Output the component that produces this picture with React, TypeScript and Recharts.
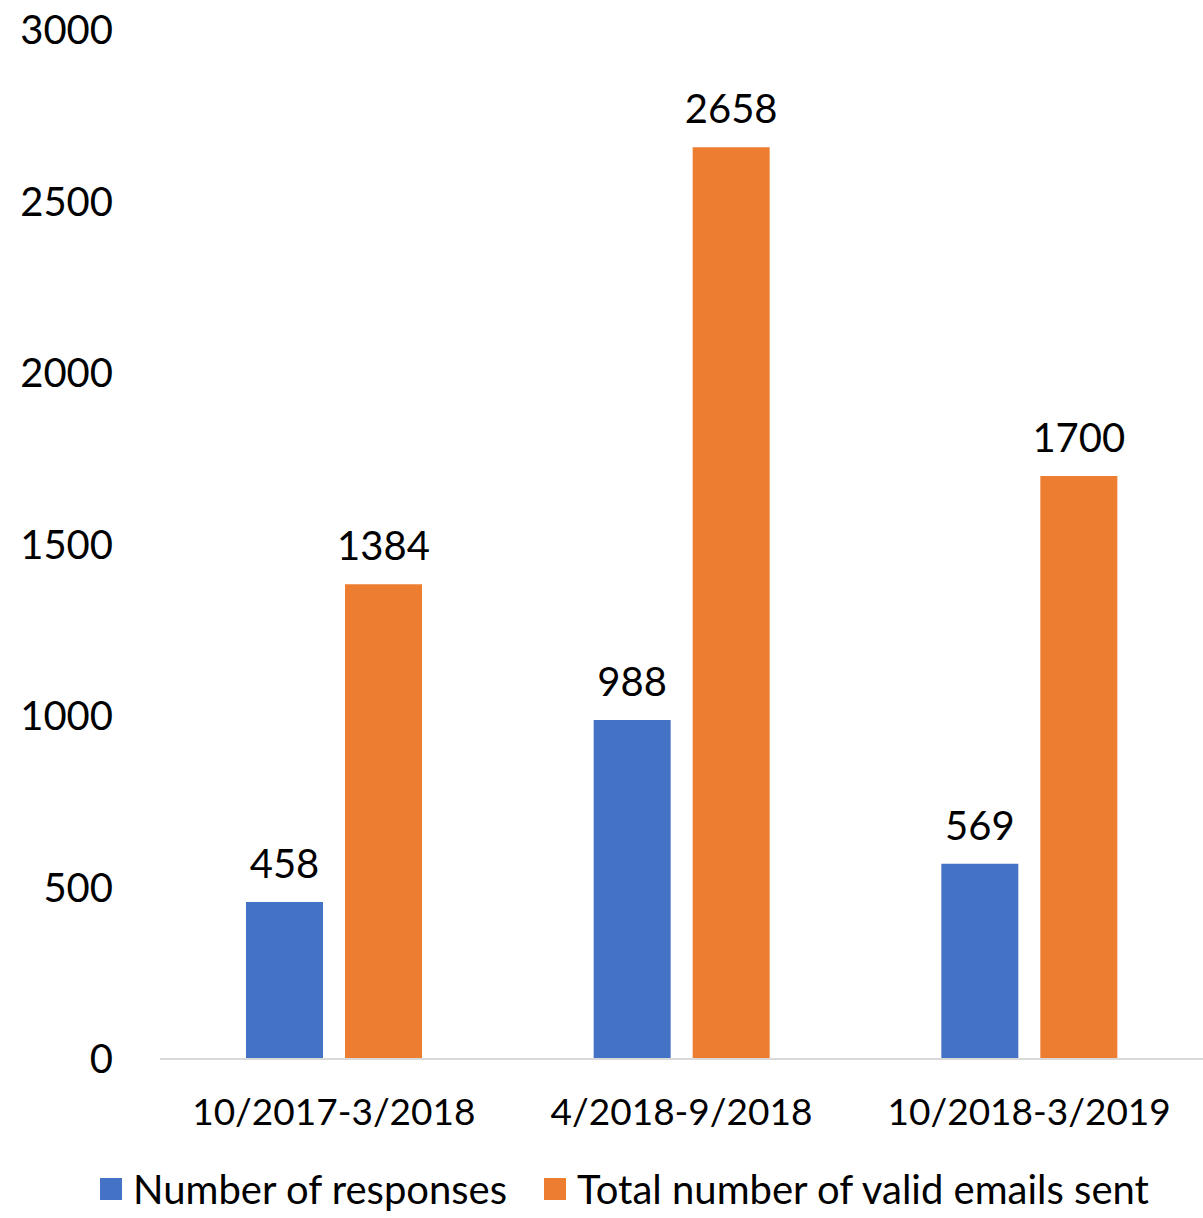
import { BarChart, Bar, XAxis, YAxis, Legend, LabelList } from "recharts";

const periods = ["10/2017-3/2018", "4/2018-9/2018", "10/2018-3/2019"];
const responses = [458, 988, 569];
const emailsSent = [1384, 2658, 1700];
const yTicks = [0, 500, 1000, 1500, 2000, 2500, 3000];

const BLUE = "#4472C4";
const ORANGE = "#ED7D31";
const FONT = "Lato, 'Open Sans', sans-serif";

const data = periods.map((p, i) => ({ period: p, responses: responses[i], sent: emailsSent[i] }));

function LegendBox() {
  const item = (color: string, text: string, gap: number) => (
    <div style={{ display: "flex", alignItems: "center", marginRight: gap }}>
      <div style={{ width: 22, height: 22, background: color, marginRight: 11 }} />
      <span style={{ fontSize: 40, color: "#000" }}>{text}</span>
    </div>
  );
  return (
    <div style={{ height: 59, display: "flex", alignItems: "center", justifyContent: "center", fontFamily: FONT, paddingLeft: 46 }}>
      {item(BLUE, "Number of responses", 37)}
      {item(ORANGE, "Total number of valid emails sent", 0)}
    </div>
  );
}

export default function App() {
  return (
    <div style={{ position: "absolute", left: 0, top: 0, width: 1203, height: 1218, background: "#fff", fontFamily: FONT }}>
      <BarChart
        width={1203}
        height={1218}
        data={data}
        margin={{ top: 30, right: 0, left: 0, bottom: 0 }}
        barSize={77}
        barGap={22}
      >
        <XAxis
          dataKey="period"
          height={100}
          axisLine={{ stroke: "#D9D9D9", strokeWidth: 2 }}
          tickLine={false}
          tickSize={0}
          tickMargin={40}
          tick={{ fontSize: 37, fill: "#000", fontFamily: FONT }}
        />
        <YAxis
          width={160}
          domain={[0, 3000]}
          ticks={yTicks}
          axisLine={false}
          tickLine={false}
          tickSize={0}
          tickMargin={47}
          tick={{ fontSize: 40, fill: "#000", fontFamily: FONT }}
        />
        <Legend verticalAlign="bottom" height={59} content={() => <LegendBox />} />
        <Bar dataKey="responses" name="Number of responses" fill={BLUE} isAnimationActive={false}>
          <LabelList dataKey="responses" position="top" offset={24} style={{ fontSize: 40, fill: "#000", fontFamily: FONT }} />
        </Bar>
        <Bar dataKey="sent" name="Total number of valid emails sent" fill={ORANGE} isAnimationActive={false}>
          <LabelList dataKey="sent" position="top" offset={24} style={{ fontSize: 40, fill: "#000", fontFamily: FONT }} />
        </Bar>
      </BarChart>
    </div>
  );
}
